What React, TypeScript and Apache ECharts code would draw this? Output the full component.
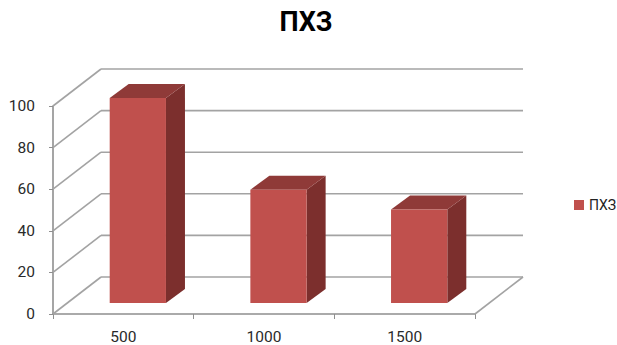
import React, { useEffect, useRef } from "react";
import * as echarts from "echarts";

const categories = ["500", "1000", "1500"];
const seriesName = "ПХЗ";
const seriesValues = [98.5, 54.5, 45];
const wallTicks = [0, 20, 40, 60, 80, 100];

const FONT = 'Roboto, "Noto Sans", sans-serif';
const DEPTH_X = 48;
const DEPTH_Y = -37;
const LINE = { stroke: "#a3a3a3", lineWidth: 1.6 };

// Back wall and side wall rules, offset from the front plane by the box depth.
function renderWall(params: any, api: any) {
  const rect = params.coordSys;
  const y = api.coord([0, api.value(0)])[1];
  const left = rect.x;
  const right = rect.x + rect.width;
  const children: any[] = [
    { type: "line", shape: { x1: left + DEPTH_X, y1: y + DEPTH_Y, x2: right + DEPTH_X, y2: y + DEPTH_Y }, style: LINE },
    { type: "line", shape: { x1: left, y1: y, x2: left + DEPTH_X, y2: y + DEPTH_Y }, style: LINE },
  ];
  if (api.value(0) === 0) {
    children.push({ type: "line", shape: { x1: right, y1: y, x2: right + DEPTH_X, y2: y + DEPTH_Y }, style: LINE });
  }
  return { type: "group", children };
}

// Box column: front face plus shaded top and side faces.
function renderBox(_params: any, api: any) {
  const band = api.size([1, 0])[0];
  const w = band * 0.4;
  const base = api.coord([api.value(0), 0]);
  const top = api.coord([api.value(0), api.value(1)]);
  const x0 = base[0] - w / 2 + 14.5;
  const x1 = x0 + w;
  const yBottom = base[1] - 11;
  const yTop = top[1] - 11;
  const dx = 19;
  const dy = -14;
  return {
    type: "group",
    children: [
      {
        type: "polygon",
        shape: { points: [[x1, yTop], [x1 + dx, yTop + dy], [x1 + dx, yBottom + dy], [x1, yBottom]] },
        style: { fill: "#7c2f2d" },
      },
      {
        type: "polygon",
        shape: { points: [[x0, yTop], [x0 + dx, yTop + dy], [x1 + dx, yTop + dy], [x1, yTop]] },
        style: { fill: "#8f3a38" },
      },
      {
        type: "rect",
        shape: { x: x0, y: yTop, width: w, height: yBottom - yTop },
        style: { fill: "#c0504d" },
      },
    ],
  };
}

export default function App() {
  const ref = useRef<HTMLDivElement>(null);

  useEffect(() => {
    document.body.style.margin = "0";
    const chart = echarts.init(ref.current!, undefined, { renderer: "svg" });
    chart.setOption({
      animation: false,
      backgroundColor: "#ffffff",
      title: {
        text: seriesName,
        left: 301,
        top: 3,
        textAlign: "center",
        textStyle: { fontFamily: FONT, fontSize: 27, fontWeight: "bold", color: "#000000" },
      },
      legend: {
        data: [seriesName],
        left: 569,
        top: 193,
        itemWidth: 10,
        itemHeight: 10,
        itemGap: 4,
        icon: "rect",
        textStyle: { fontFamily: FONT, fontSize: 14, color: "#222222" },
      },
      grid: { left: 53, top: 106, width: 422, height: 209 },
      xAxis: {
        type: "category",
        data: categories,
        axisLine: { lineStyle: { color: "#8f8f8f", width: 1.6 } },
        axisTick: { show: true, length: 5, lineStyle: { color: "#8f8f8f" } },
        axisLabel: { fontFamily: FONT, fontSize: 15.5, color: "#2a2a2a", margin: 15 },
        splitLine: { show: false },
      },
      yAxis: {
        type: "value",
        min: 0,
        max: 100,
        interval: 20,
        axisLine: { show: true, lineStyle: { color: "#8f8f8f", width: 1.6 } },
        axisTick: { show: true, length: 4, lineStyle: { color: "#8f8f8f" } },
        axisLabel: { fontFamily: FONT, fontSize: 15.5, color: "#2a2a2a", margin: 18 },
        splitLine: { show: false },
      },
      series: [
        {
          type: "custom",
          name: "walls",
          silent: true,
          z: 1,
          data: wallTicks.map((t) => [t]),
          encode: { y: 0 },
          renderItem: renderWall,
        },
        {
          type: "custom",
          name: seriesName,
          z: 3,
          itemStyle: { color: "#c0504d" },
          data: seriesValues.map((v, i) => [i, v]),
          encode: { x: 0, y: 1 },
          renderItem: renderBox,
        },
      ],
    });
    return () => chart.dispose();
  }, []);

  return <div ref={ref} style={{ width: 617, height: 345 }} />;
}
